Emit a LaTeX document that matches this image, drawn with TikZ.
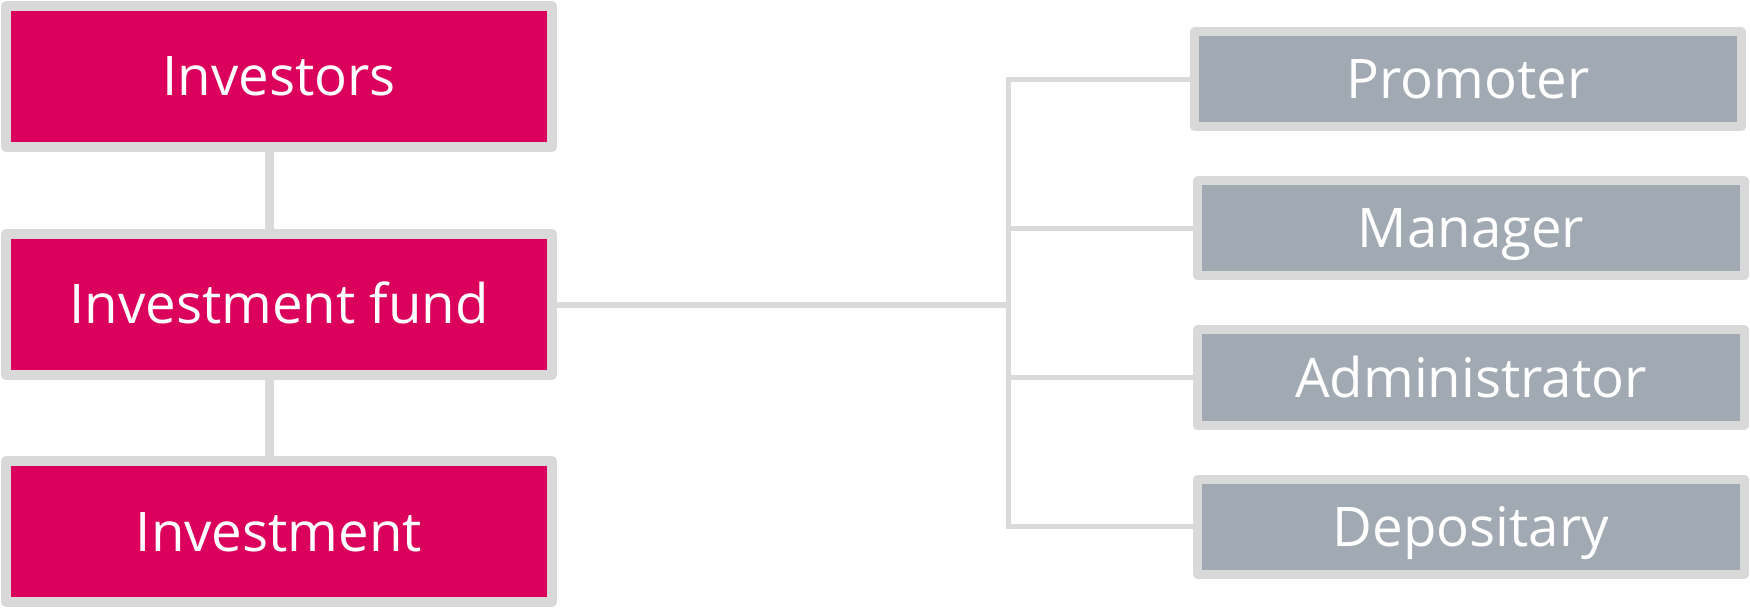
\documentclass[tikz,border=0pt]{standalone}
\usepackage{fontspec}
\setmainfont{Open Sans}
\definecolor{magentabox}{HTML}{DA005C}
\definecolor{graybox}{HTML}{A1A9B2}
\definecolor{borderg}{HTML}{D9D9D9}
\definecolor{linkg}{HTML}{DADADA}
\tikzset{
  lbox/.style={draw=borderg, fill=magentabox, line width=10pt, line join=round,
    minimum width=546pt, minimum height=141pt, inner sep=0pt,
    text=white, text height=39pt, text depth=0pt,
    font=\fontsize{54.6}{60}\selectfont},
  rbox/.style={draw=borderg, fill=graybox, line width=9pt, line join=round,
    minimum width=547pt, minimum height=95pt, inner sep=0pt,
    text=white, text height=39pt, text depth=0pt,
    font=\fontsize{54.6}{60}\selectfont},
  vlink/.style={draw=linkg, line width=9.5pt},
  tlink/.style={draw=linkg, line width=5.5pt, line join=miter},
  flink/.style={draw=linkg, line width=6pt}
}
\begin{document}
\begin{tikzpicture}[x=1pt,y=-1pt]
\useasboundingbox (0,0) rectangle (1750,609);
% connectors (drawn first, behind boxes)
\coordinate (ttop) at (1008.4,79.5);
\coordinate (tbot) at (1008.4,526.5);
\coordinate (ia) at (269.5,147);
\coordinate (ib) at (269.5,234);
\coordinate (ic) at (269.5,375);
\coordinate (id) at (269.5,461);
\draw[vlink] (ia) -- (ib);
\draw[vlink] (ic) -- (id);
\draw[flink] (557,305) -- (1008.4,305);
\draw[tlink] (1190,79.5) -- (ttop) -- (tbot) -- (1193,526.5);
\draw[tlink] (1008.4,228.5) -- (1193,228.5);
\draw[tlink] (1008.4,377.5) -- (1193,377.5);
% boxes
\node[lbox] (inv) at (279,76.5) {Investors};
\node[lbox] (fund) at (279,304.5) {Investment fund};
\node[lbox] (invt) at (279,531.5) {Investment};
\node[rbox] (prom) at (1468,79.5) {Promoter};
\node[rbox] (man) at (1471,228.5) {Manager};
\node[rbox] (adm) at (1471,377.5) {Administrator};
\node[rbox] (dep) at (1471,526.5) {Depositary};
\end{tikzpicture}
\end{document}
